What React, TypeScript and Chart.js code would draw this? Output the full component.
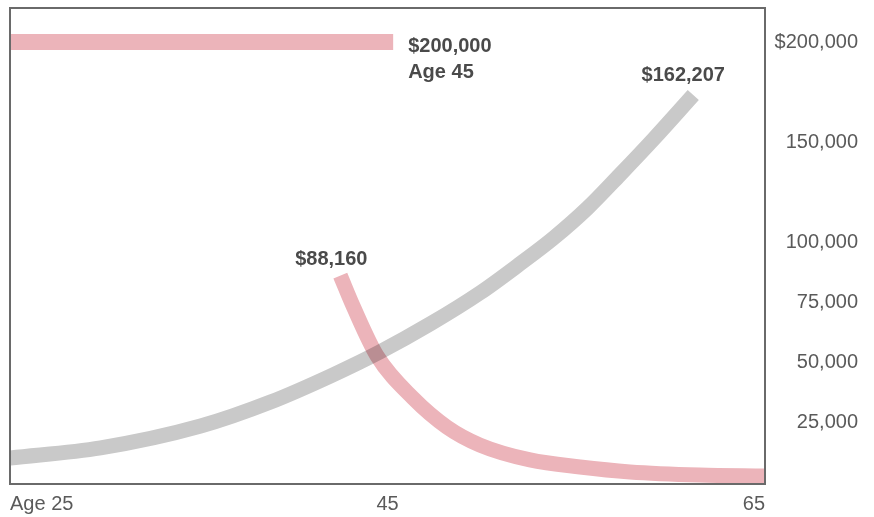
import React, { useEffect, useRef } from "react";
import { Chart, registerables, LinearScale } from "chart.js";

Chart.register(...registerables);

// ---- data ----
const grayAges = [25, 29.8, 35.1, 38.8, 42.1, 44.6, 47.25, 49.9, 52, 53.8, 55.6, 57.3, 59.1, 61.2];
const grayValues = [10000, 14200, 23300, 33300, 44600, 54200, 65800, 78800, 90800, 102000, 117000, 133500, 151500, 173500];

const pinkFlatAges = [25, 45.3];
const pinkFlatValues = [200000, 200000];

const pinkDecayAges = [42.5, 43.2, 44.45, 46.35, 48.15, 49.9, 52.55, 55.2, 57.85, 61.55, 65];
const pinkDecayValues = [86000, 72900, 52500, 35000, 22900, 15400, 9200, 6250, 4200, 2900, 2500];

const xTickValues = [25, 45, 65];
const xTickLabels = ["Age 25", "45", "65"];

const yTickValues = [200000, 150000, 100000, 75000, 50000, 25000];
const yTickLabels = ["$200,000", "150,000", "100,000", "75,000", "50,000", "25,000"];

const flatLabelLines = ["$200,000", "Age 45"];
const grayEndLabel = "$162,207";
const decayStartLabel = "$88,160";

// ---- piecewise axis: 25k steps below 100k, 50k steps above ----
const BREAK = 100000;
function toUnits(v: number) {
  return v <= BREAK ? (v * 60) / 25000 : 240 + ((v - BREAK) * 100) / 50000;
}
function fromUnits(u: number) {
  return u <= 240 ? (u * 25000) / 60 : BREAK + ((u - 240) * 50000) / 100;
}

class BrokenLinearScale extends LinearScale {
  static id = "brokenLinear";
  static defaults = (LinearScale as any).defaults;
  getPixelForValue(value: number) {
    const a = toUnits(this.min);
    const b = toUnits(this.max);
    return this.getPixelForDecimal((toUnits(value) - a) / (b - a));
  }
  getValueForPixel(pixel: number) {
    const a = toUnits(this.min);
    const b = toUnits(this.max);
    return fromUnits(a + this.getDecimalForPixel(pixel) * (b - a));
  }
}
Chart.register(BrokenLinearScale as any);

const FONT = "'Liberation Sans', Arial, Helvetica, sans-serif";
const PINK = "#ecb4ba";
const GRAY = "#c9c9c9";
const TEXT = "#5a5a5a";
const LABEL = "#4a4a4a";

const framePlugin = {
  id: "frameAndBlend",
  beforeDatasetsDraw(chart: any) {
    chart.ctx.globalCompositeOperation = "multiply";
  },
  afterDatasetsDraw(chart: any) {
    const { ctx, chartArea } = chart;
    ctx.globalCompositeOperation = "source-over";
    ctx.save();
    ctx.strokeStyle = "#6a6a6a";
    ctx.lineWidth = 2;
    ctx.strokeRect(chartArea.left, chartArea.top, chartArea.right - chartArea.left, chartArea.bottom - chartArea.top);
    ctx.restore();
  },
  afterDraw(chart: any) {
    const { ctx } = chart;
    const x = chart.scales.x;
    const y = chart.scales.y;
    ctx.save();
    ctx.font = `bold 20px ${FONT}`;
    ctx.fillStyle = LABEL;
    ctx.textBaseline = "middle";

    const fx = x.getPixelForValue(pinkFlatAges[pinkFlatAges.length - 1]);
    const fy = y.getPixelForValue(pinkFlatValues[pinkFlatValues.length - 1]);
    ctx.textAlign = "left";
    ctx.fillText(flatLabelLines[0], fx + 15, fy + 4);
    ctx.fillText(flatLabelLines[1], fx + 15, fy + 30);

    const gx = x.getPixelForValue(grayAges[grayAges.length - 1]);
    const gy = y.getPixelForValue(grayValues[grayValues.length - 1]);
    ctx.textAlign = "center";
    ctx.fillText(grayEndLabel, gx - 10, gy - 20);

    const px = x.getPixelForValue(pinkDecayAges[0]);
    const py = y.getPixelForValue(pinkDecayValues[0]);
    ctx.fillText(decayStartLabel, px - 9, py - 16);
    ctx.restore();
  },
};

const zeroPad = (s: any) => {
  s.paddingTop = 0;
  s.paddingBottom = 0;
  s.paddingLeft = 0;
  s.paddingRight = 0;
};

export default function App() {
  const canvasRef = useRef<HTMLCanvasElement | null>(null);

  useEffect(() => {
    if (!canvasRef.current) return;
    const toPts = (xs: number[], ys: number[]) => xs.map((a, i) => ({ x: a, y: ys[i] }));
    const chart = new Chart(canvasRef.current, {
      type: "line",
      data: {
        datasets: [
          {
            data: toPts(pinkDecayAges, pinkDecayValues),
            borderColor: PINK,
            borderWidth: 15,
            pointRadius: 0,
            cubicInterpolationMode: "monotone",
            fill: false,
          },
          {
            data: toPts(pinkFlatAges, pinkFlatValues),
            borderColor: PINK,
            borderWidth: 16,
            pointRadius: 0,
            fill: false,
          },
          {
            data: toPts(grayAges, grayValues),
            borderColor: GRAY,
            borderWidth: 15,
            pointRadius: 0,
            cubicInterpolationMode: "monotone",
            fill: false,
          },
        ],
      },
      options: {
        animation: false,
        responsive: true,
        maintainAspectRatio: false,
        layout: { padding: { left: 10, top: 8, right: 16, bottom: 0 } },
        plugins: { legend: { display: false }, tooltip: { enabled: false } },
        scales: {
          x: {
            type: "linear",
            position: "bottom",
            min: 25,
            max: 65,
            grid: { display: false, drawTicks: false },
            border: { display: false },
            afterBuildTicks: (s: any) => {
              s.ticks = xTickValues.map((v) => ({ value: v }));
            },
            afterFit: (s: any) => {
              s.height = 33;
              zeroPad(s);
            },
            ticks: {
              autoSkip: false,
              maxRotation: 0,
              align: "inner",
              padding: 8,
              color: TEXT,
              font: { family: FONT, size: 20 },
              callback: (v: any) => xTickLabels[xTickValues.indexOf(Number(v))],
            },
          },
          y: {
            type: "brokenLinear" as any,
            position: "right",
            min: -833,
            max: 217000,
            grid: { display: false, drawTicks: false },
            border: { display: false },
            afterBuildTicks: (s: any) => {
              s.ticks = yTickValues.map((v) => ({ value: v }));
            },
            afterFit: (s: any) => {
              s.width = 93;
              zeroPad(s);
            },
            ticks: {
              autoSkip: false,
              padding: 1,
              crossAlign: "far",
              color: TEXT,
              font: { family: FONT, size: 20 },
              callback: (v: any) => yTickLabels[yTickValues.indexOf(Number(v))],
            },
          },
        } as any,
      },
      plugins: [framePlugin as any],
    });
    return () => chart.destroy();
  }, []);

  return (
    <div style={{ position: "fixed", left: 0, top: 0, width: 874, height: 517, background: "#fff" }}>
      <canvas ref={canvasRef} />
    </div>
  );
}
